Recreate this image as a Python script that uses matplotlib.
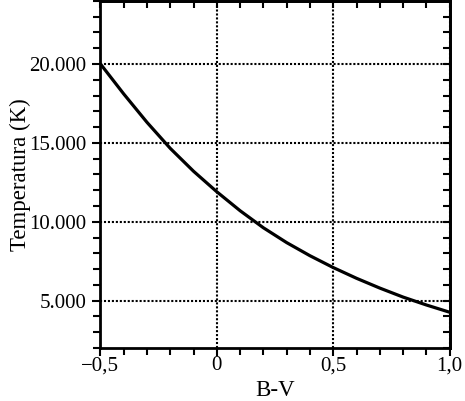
import numpy as np
import matplotlib
matplotlib.use('Agg')
import matplotlib.pyplot as plt
from matplotlib.ticker import MultipleLocator, FuncFormatter

# B-V color index vs temperature
bv = [-0.5, -0.4, -0.3, -0.2, -0.1, 0.0, 0.1, 0.2, 0.3, 0.4, 0.5, 0.6, 0.7, 0.8, 0.9, 1.0]
temp = [20000, 18100, 16300, 14650, 13200, 11900, 10700, 9620, 8680, 7850, 7100, 6420, 5800, 5230, 4730, 4270]

plt.rcParams['font.family'] = ['Liberation Serif', 'DejaVu Serif']

fig = plt.figure(figsize=(4.65, 4.01), dpi=100)
ax = fig.add_axes([0.216, 0.132, 0.751, 0.866])

ax.plot(bv, temp, color='black', lw=2.3, solid_capstyle='butt')

ax.set_xlim(-0.5, 1.0)
ax.set_ylim(2000, 24000)


def fmt_x(v, pos):
    if abs(v) < 1e-9:
        return '0'
    return ('%.1f' % v).replace('.', ',').replace('-', '\u2212')


def fmt_y(v, pos):
    return '{:,.0f}'.format(v).replace(',', '.')


def set_locators(a):
    a.xaxis.set_major_locator(MultipleLocator(0.5))
    a.xaxis.set_minor_locator(MultipleLocator(0.1))
    a.yaxis.set_major_locator(MultipleLocator(5000))
    a.yaxis.set_minor_locator(MultipleLocator(1000))


set_locators(ax)
ax.xaxis.set_major_formatter(FuncFormatter(fmt_x))
ax.yaxis.set_major_formatter(FuncFormatter(fmt_y))

ax.grid(True, which='major', color='black', linestyle=(0, (1, 0.9)), lw=1.5)

# left / bottom: outward ticks with labels
ax.tick_params(which='both', direction='out', top=False, right=False, width=1.5,
               labelsize=15, colors='black')
ax.tick_params(which='major', length=6)
ax.tick_params(which='minor', length=5)
ax.tick_params(axis='y', which='major', pad=4)
ax.tick_params(axis='x', which='major', pad=0)

# top / right: inward ticks, no labels
top = ax.secondary_xaxis('top')
right = ax.secondary_yaxis('right')
top.xaxis.set_major_locator(MultipleLocator(0.1))
right.yaxis.set_major_locator(MultipleLocator(1000))
top.tick_params(direction='in', length=5, width=1.5, labeltop=False)
right.tick_params(direction='in', length=5, width=1.5, labelright=False)

for a in (ax, top, right):
    for s in a.spines.values():
        s.set_linewidth(2)

ax.set_xlabel('B-V', fontsize=16.5, labelpad=3.5)
ax.set_ylabel('Temperatura (K)', fontsize=16.5, labelpad=-1.5)

fig.savefig('out.png', dpi=100)
